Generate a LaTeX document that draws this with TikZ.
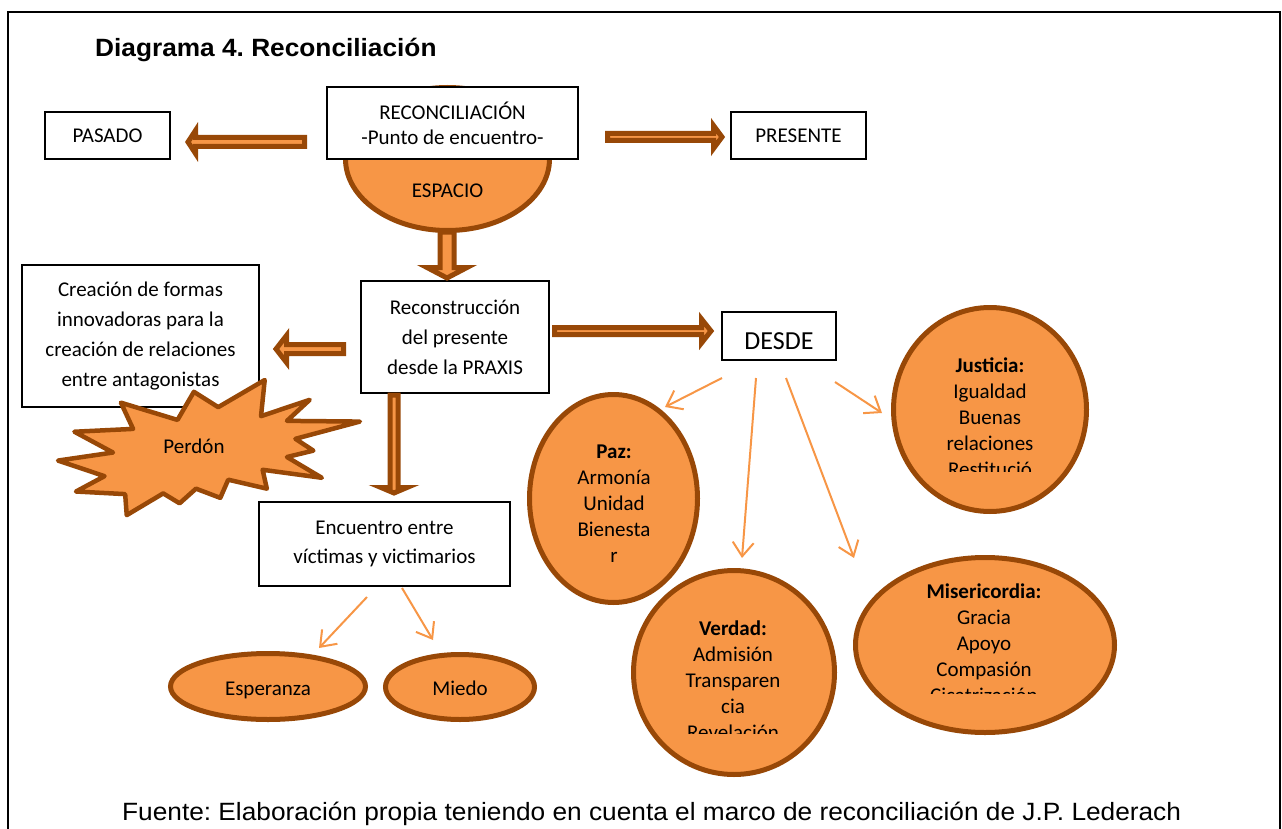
\documentclass[tikz,border=0pt]{standalone}
\usepackage{fontspec}
\setmainfont{Carlito}
\newfontfamily\arialfont[FakeStretch=1.05]{Liberation Sans}
\usetikzlibrary{calc,arrows.meta,shapes.geometric}

\definecolor{eorange}{RGB}{247,150,70}
\definecolor{ebrown}{RGB}{152,72,7}
\newcommand\setfs[2]{\fontsize{#1}{#2}\selectfont}

\tikzset{
  box/.style n args={2}{draw=black, line width=1.3pt, fill=white, inner sep=0pt,
    minimum width=#1, minimum height=#2},
  oval/.style n args={2}{ellipse, draw=ebrown, fill=eorange, line width=5pt,
    inner sep=0pt, minimum width=#1, minimum height=#2},
  label text/.style={align=center, inner sep=0pt, font=\setfs{21}{#1}},
  thinarrow/.style={draw=eorange, line width=2pt,
    -{Straight Barb[length=14pt,width=21pt]}},
  % hollow block arrow: shaft half width, head half width, head length
  barrow/.style n args={3}{draw=ebrown, fill=eorange, line width=5pt, line join=miter,
    to path={
      ($(\tikztostart)!#1!90:(\tikztotarget)$)
      -- ($($(\tikztotarget)!#3!(\tikztostart)$)!#1!90:(\tikztotarget)$)
      -- ($($(\tikztotarget)!#3!(\tikztostart)$)!#2!90:(\tikztotarget)$)
      -- (\tikztotarget)
      -- ($($(\tikztotarget)!#3!(\tikztostart)$)!#2!-90:(\tikztotarget)$)
      -- ($($(\tikztotarget)!#3!(\tikztostart)$)!#1!-90:(\tikztotarget)$)
      -- ($(\tikztostart)!#1!-90:(\tikztotarget)$)
      -- cycle}}
}

\begin{document}
\frenchspacing
\begin{tikzpicture}[x=1pt, y=-1pt]
\useasboundingbox (0,0) rectangle (1282,829);

% outer frame (open at the bottom)
\draw[line width=2pt] (7.5,829) -- (7.5,12.5) -- (1279.5,12.5) -- (1279.5,829);

\node[anchor=base west, inner sep=0pt, font=\arialfont\bfseries\setfs{25}{28}] (titulo)
  at (95,57) {Diagrama 4. Reconciliación};

% top row
\node[oval={204pt}{143pt}] (espacio) at (447.5,159) {};
\node[label text=26, anchor=base] (espaciotxt) at (447.5,198) {ESPACIO};
\node[box={251pt}{72pt}, label text=25] (reconc) at (452.5,123)
  {RECONCILIACIÓN\\-Punto de encuentro-};
\node[box={125pt}{47pt}, label text=25] (pasado) at (107.5,135.5) {PASADO};
\node[box={135pt}{47pt}, label text=25] (presente) at (798.5,135.5) {PRESENTE};

% middle row
\node[box={237pt}{142pt}, label text=30] (creacion) at (140.5,336)
  {Creación de formas\\innovadoras para la\\creación de relaciones\\entre antagonistas};
\node[box={188pt}{112pt}, label text=30] (recon) at (455,337)
  {Reconstrucción\\del presente\\desde la PRAXIS};
\node[box={114pt}{48pt}] (desde) at (779,336) {};
\node[inner sep=0pt, font=\setfs{26}{30}] (desdetxt) at (779,341) {DESDE};

% burst
\begin{scope}[shift={(58,380)}, x=0.013981pt, y=-0.00625pt]
\draw[draw=ebrown, fill=eorange, line width=4.5pt, line join=round]
  (11462,4342) -- (14790,0) -- (14525,5777) -- (18007,3172) -- (16380,6532)
  -- (21600,6645) -- (16985,9402) -- (18270,11290) -- (16380,12310)
  -- (18877,15632) -- (14640,14350) -- (14942,17370) -- (12180,15935)
  -- (11612,18842) -- (9872,17370) -- (8700,19712) -- (7527,18125)
  -- (4917,21600) -- (4805,18240) -- (1285,17825) -- (3330,15370)
  -- (0,12877) -- (3935,11592) -- (1172,8270) -- (5372,7817)
  -- (4502,3625) -- (8550,6382) -- (9722,1887) -- cycle;
\end{scope}
\node[label text=26, anchor=base] (perdon) at (194,453) {Perdón};

% lower left
\node[box={251pt}{84pt}, label text=29] (encuentro) at (384.5,544)
  {Encuentro entre\\víctimas y victimarios};
\node[oval={195pt}{66pt}] (esperanza) at (268,686.5) {};
\node[label text=26, anchor=base] (esperanzatxt) at (268,695) {Esperanza};
\node[oval={149pt}{65pt}] (miedo) at (460,687) {};
\node[label text=26, anchor=base] (miedotxt) at (460,695) {Miedo};

% value ovals
\node[oval={168pt}{208pt}] (paz) at (613.5,498.5) {};
\node[label text=26] (paztxt) at (614,504)
  {\textbf{Paz:}\\Armonía\\Unidad\\Bienesta\\r};

\node[oval={193pt}{204pt}] (justicia) at (990,409.5) {};
\begin{scope}
\clip (900,340) rectangle (1080,471);
\node[label text=26] (justiciatxt) at (990,417)
  {\textbf{Justicia:}\\Igualdad\\Buenas\\relaciones\\Restitució};
\end{scope}

\node[oval={201pt}{204pt}] (verdad) at (734,672.5) {};
\begin{scope}
\clip (640,600) rectangle (830,733);
\node[label text=26] (verdadtxt) at (733,680)
  {\textbf{Verdad:}\\Admisión\\Transparen\\cia\\Revelación};
\end{scope}

\node[oval={259pt}{175pt}] (misericordia) at (985,645) {};
\begin{scope}
\clip (860,570) rectangle (1110,693);
\node[label text=26] (misericordiatxt) at (984,643)
  {\textbf{Misericordia:}\\Gracia\\Apoyo\\Compasión\\Cicatrización};
\end{scope}

% block arrows
\coordinate (a1s) at (304.5,142); \coordinate (a1e) at (188,142);
\coordinate (a2s) at (607.5,137); \coordinate (a2e) at (722,137);
\coordinate (a3s) at (447,232);   \coordinate (a3e) at (447,278);
\coordinate (a4s) at (343.5,349); \coordinate (a4e) at (276,349);
\coordinate (a5s) at (554.5,331); \coordinate (a5e) at (711,331);
\coordinate (a6s) at (394,395);   \coordinate (a6e) at (394,493);
\draw[barrow={4.5pt}{11.5pt}{7.5pt}] (a1s) to (a1e);
\draw[barrow={3.5pt}{11.5pt}{8.5pt}] (a2s) to (a2e);
\draw[barrow={7pt}{20pt}{10.5pt}] (a3s) to (a3e);
\draw[barrow={4.5pt}{13.5pt}{10.5pt}] (a4s) to (a4e);
\draw[barrow={3.5pt}{12pt}{9.5pt}] (a5s) to (a5e);
\draw[barrow={4pt}{13pt}{5.5pt}] (a6s) to (a6e);

% thin arrows
\coordinate (t1s) at (722,378); \coordinate (t1e) at (665,407);
\coordinate (t2s) at (756,378); \coordinate (t2e) at (742,558);
\coordinate (t3s) at (786,378); \coordinate (t3e) at (854,558);
\coordinate (t4s) at (835,382); \coordinate (t4e) at (882,413);
\coordinate (t5s) at (367,597); \coordinate (t5e) at (319,648);
\coordinate (t6s) at (402,588); \coordinate (t6e) at (433,640);
\draw[thinarrow] (t1s) -- (t1e);
\draw[thinarrow] (t2s) -- (t2e);
\draw[thinarrow] (t3s) -- (t3e);
\draw[thinarrow] (t4s) -- (t4e);
\draw[thinarrow] (t5s) -- (t5e);
\draw[thinarrow] (t6s) -- (t6e);

\node[anchor=base west, inner sep=0pt, font=\arialfont\setfs{25}{28}] (fuente) at (122,820)
  {Fuente: Elaboración propia teniendo en cuenta el marco de reconciliación de J.P. Lederach};
\end{tikzpicture}
\end{document}
